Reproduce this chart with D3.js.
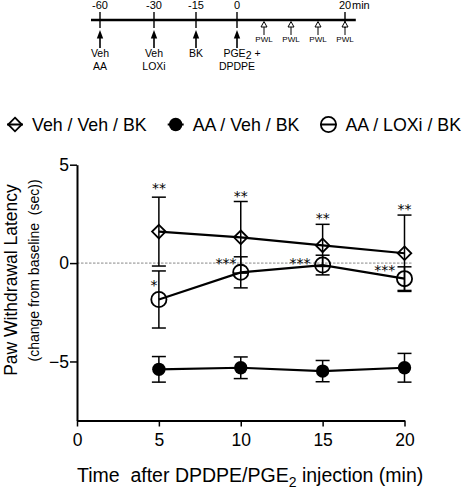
<!DOCTYPE html>
<html><head><meta charset="utf-8">
<script src="https://cdn.jsdelivr.net/npm/d3@7"></script>
<style>
body{margin:0;background:#fff;}
svg{display:block;font-family:"Liberation Sans",Arial,Helvetica,sans-serif;}
</style></head>
<body><svg id="c" width="464" height="488"></svg>
<script>
// ---- data ----
const times = [5, 10, 15, 20];
const vehMean = [1.6, 1.31, 0.9, 0.5];
const vehSem  = [1.75, 1.82, 1.07, 1.94];
const aaMean  = [-5.4, -5.32, -5.49, -5.32];
const aaSem   = [0.65, 0.55, 0.54, 0.73];
const loxMean = [-1.85, -0.47, -0.1, -0.79];
const loxSem  = [1.45, 0.79, 0.5, 0.6];
const seriesNames = ["Veh / Veh / BK", "AA / Veh / BK", "AA / LOXi / BK"];
const xTicks = [0, 5, 10, 15, 20];
const yTicks = [5, 0, -5];
// significance annotations (data coordinates)
const vehStars = [{t:5, y:3.98, s:"**"}, {t:10, y:3.56, s:"**"}, {t:15, y:2.44, s:"**"}, {t:20, y:2.91, s:"**"}];
const loxStars = [{t:4.7, y:-0.94, s:"*"}, {t:9.1, y:0.17, s:"***"}, {t:13.62, y:0.17, s:"***"}, {t:18.8, y:-0.18, s:"***"}];
// timeline schematic
const tlTicks = [-60, -30, -15, 0, 20];
const tlEvents = [-60, -30, -15, 0];
const tlEventLabels = [["Veh","AA"], ["Veh","LOXi"], ["BK"], ["PGE|2| +","DPDPE"]];
const tlPwl = [5, 10, 15, 20];

const svg = d3.select("#c");
const FONT = '"Liberation Sans",Arial,Helvetica,sans-serif';

// ---- timeline ----
const tx = d3.scaleLinear().domain([-60, -30, -15, 0, 20]).range([100, 154, 196, 237, 345]);
const tl = svg.append("g");
const tlY = 20;
tl.append("line").attr("x1", tx(-65)).attr("x2", tx(22)).attr("y1", tlY).attr("y2", tlY)
  .attr("stroke", "#000").attr("stroke-width", 2.6);
tl.selectAll(".tk").data(tlTicks).join("line")
  .attr("x1", d => tx(d)).attr("x2", d => tx(d)).attr("y1", 12).attr("y2", 28)
  .attr("stroke", "#000").attr("stroke-width", 1.4);
tl.selectAll(".tkl").data(tlTicks).join("text")
  .attr("x", d => tx(d)).attr("y", 9).attr("text-anchor", "middle")
  .attr("font-size", 11).text(d => d);
tl.append("text").attr("x", tx(20) + 7).attr("y", 9).attr("font-size", 11).text("min");
// event arrows
tlEvents.forEach((t, i) => {
  const x = tx(t);
  tl.append("line").attr("x1", x).attr("x2", x).attr("y1", 37).attr("y2", 48)
    .attr("stroke", "#000").attr("stroke-width", 1.6);
  tl.append("path").attr("d", `M${x},30 L${x-3.2},38.5 L${x+3.2},38.5 Z`).attr("fill", "#000");
  tlEventLabels[i].forEach((lab, j) => {
    const txt = tl.append("text").attr("x", x).attr("y", 57 + j * 12.5)
      .attr("text-anchor", "middle").attr("font-size", 10.5);
    const parts = lab.split("|");
    if (parts.length === 1) txt.text(lab);
    else {
      txt.attr("x", x + 5);
      txt.append("tspan").text(parts[0]);
      txt.append("tspan").attr("dy", 1.5).text(parts[1]);
      txt.append("tspan").attr("dy", -1.5).text(parts[2]);
    }
  });
});
// PWL arrows
tlPwl.forEach(t => {
  const x = tx(t);
  tl.append("line").attr("x1", x).attr("x2", x).attr("y1", 26.5).attr("y2", 35)
    .attr("stroke", "#000").attr("stroke-width", 1);
  tl.append("path").attr("d", `M${x},21.5 L${x-3},27 L${x+3},27 Z`)
    .attr("fill", "#fff").attr("stroke", "#000").attr("stroke-width", 1);
  tl.append("text").attr("x", x).attr("y", 41.5).attr("text-anchor", "middle")
    .attr("font-size", 8).text("PWL");
});

// ---- legend ----
const lg = svg.append("g");
const legY = 124.5;
let cx = 15;
seriesNames.forEach((name, i) => {
  const g = lg.append("g");
  g.append("line").attr("x1", cx - 8).attr("x2", cx + 8).attr("y1", legY).attr("y2", legY)
    .attr("stroke", "#000").attr("stroke-width", 2);
  drawSymbol(g, i, cx, legY);
  const t = g.append("text").attr("x", cx + 17).attr("y", 130.5).attr("font-size", 17.8).text(name);
  cx = cx + 17 + t.node().getComputedTextLength() + 29;
});

function drawSymbol(g, i, x, y) {
  if (i === 0) {
    const r = 6.8;
    g.append("path").attr("d", `M${x},${y-r} L${x+r},${y} L${x},${y+r} L${x-r},${y} Z`)
      .attr("fill", "none").attr("stroke", "#000").attr("stroke-width", 1.8);
  } else if (i === 1) {
    g.append("circle").attr("cx", x).attr("cy", y).attr("r", 6.7).attr("fill", "#000");
  } else {
    g.append("circle").attr("cx", x).attr("cy", y).attr("r", 7.6)
      .attr("fill", "none").attr("stroke", "#000").attr("stroke-width", 1.8);
  }
}

// ---- main chart ----
const x = d3.scaleLinear().domain([0, 20]).range([77, 404.5]);
const y = d3.scaleLinear().domain([-8, 5]).range([420.5, 164.7]);

// zero reference line
svg.append("line").attr("x1", x(0)).attr("x2", x(20.5)).attr("y1", y(0)).attr("y2", y(0))
  .attr("stroke", "#555").attr("stroke-width", 0.7).attr("stroke-dasharray", "2.5,1.5");

const xAxis = svg.append("g").attr("transform", `translate(0,${y(-8)})`)
  .call(d3.axisBottom(x).tickValues(xTicks).tickSize(6).tickSizeOuter(0).tickPadding(7));
const yAxis = svg.append("g").attr("transform", `translate(${x(0)},0)`)
  .call(d3.axisLeft(y).tickValues(yTicks).tickSize(7).tickSizeOuter(0).tickPadding(1));
[xAxis, yAxis].forEach(a => {
  a.select(".domain").attr("stroke-width", 2);
  a.selectAll(".tick line").attr("stroke-width", 1.5);
  a.selectAll(".tick text").attr("font-size", 17.5).attr("font-family", FONT).attr("fill", "#000");
});

const series = [
  {mean: vehMean, sem: vehSem},
  {mean: aaMean, sem: aaSem},
  {mean: loxMean, sem: loxSem}
];
const line = d3.line().x(d => x(d.t)).y(d => y(d.m));
const plot = svg.append("g");
// error bars first
series.forEach((s, i) => {
  const pts = times.map((t, k) => ({t, m: s.mean[k], e: s.sem[k]}));
  const eb = plot.append("g").attr("stroke", "#000").attr("stroke-width", 1.5);
  pts.forEach(p => {
    eb.append("line").attr("x1", x(p.t)).attr("x2", x(p.t)).attr("y1", y(p.m + p.e)).attr("y2", y(p.m - p.e));
    [p.m + p.e, p.m - p.e].forEach(v => {
      eb.append("line").attr("x1", x(p.t) - 7).attr("x2", x(p.t) + 7).attr("y1", y(v)).attr("y2", y(v));
    });
  });
});
series.forEach((s, i) => {
  const pts = times.map((t, k) => ({t, m: s.mean[k]}));
  plot.append("path").datum(pts).attr("d", line).attr("fill", "none")
    .attr("stroke", "#000").attr("stroke-width", 2.2);
  pts.forEach(p => drawSymbol(plot, i, x(p.t), y(p.m)));
});

// stars
const fsStar = 14;
const starFont = '"DejaVu Sans",sans-serif';
svg.selectAll(".sv").data(vehStars).join("text")
  .attr("x", d => x(d.t)).attr("y", d => y(d.y) + fsStar * 0.6)
  .attr("text-anchor", "middle").attr("font-family", starFont).attr("font-size", fsStar).text(d => d.s);
svg.selectAll(".sl").data(loxStars).join("text")
  .attr("x", d => x(d.t)).attr("y", d => y(d.y) + fsStar * 0.6)
  .attr("text-anchor", "middle").attr("font-family", starFont).attr("font-size", fsStar).text(d => d.s);

// axis titles
svg.append("text").attr("transform", "translate(17,280) rotate(-90)")
  .attr("text-anchor", "middle").attr("font-size", 17.5).text("Paw Withdrawal Latency");
svg.append("text").attr("transform", "translate(39,270.5) rotate(-90)")
  .attr("text-anchor", "middle").attr("font-size", 14).attr("xml:space", "preserve")
  .text("(change from baseline  (sec))");
const xt = svg.append("text").attr("x", 77).attr("y", 481.5).attr("font-size", 19.5)
  .attr("xml:space", "preserve");
xt.append("tspan").text("Time  after DPDPE/PGE");
xt.append("tspan").attr("dy", 5).attr("font-size", 14).text("2");
xt.append("tspan").attr("dy", -5).text(" injection (min)");
</script></body></html>
